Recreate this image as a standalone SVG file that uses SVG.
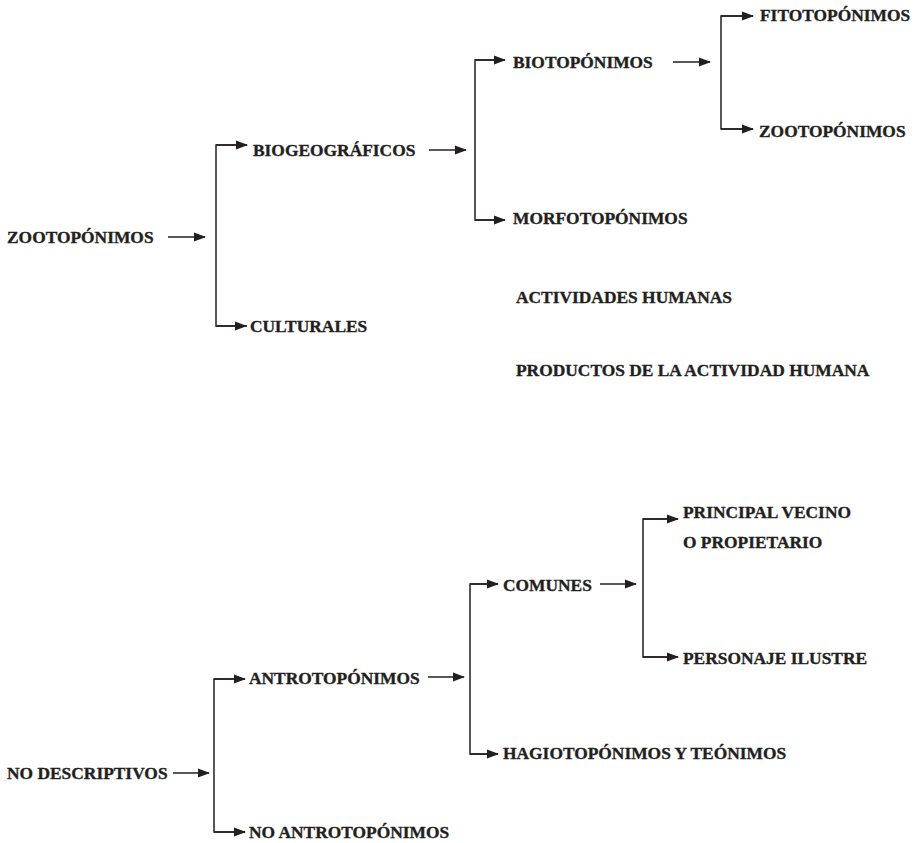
<svg xmlns="http://www.w3.org/2000/svg" width="918" height="843" viewBox="0 0 918 843">
<style>
.t{font-family:"Liberation Serif","Times New Roman",serif;font-weight:bold;font-size:17.4px;fill:#231f20;stroke:#231f20;stroke-width:0.35}
.c{fill:none;stroke:#231f20;stroke-width:1.5}
</style>
<defs>
<marker id="ah" markerUnits="userSpaceOnUse" markerWidth="12" markerHeight="10" refX="11" refY="5" orient="auto">
<path d="M0,0.5 L12,5 L0,9.5 z" fill="#231f20"/>
</marker>
</defs>
<rect width="918" height="843" fill="#fff"/>
<g id="connectors">
<path class="c" d="M168,237 H205" marker-end="url(#ah)"/>
<path class="c" d="M247,145 H216 V326 H247"/>
<path class="c" d="M216,145 H247" marker-end="url(#ah)"/>
<path class="c" d="M216,326 H246" marker-end="url(#ah)"/>
<path class="c" d="M429,150 H466" marker-end="url(#ah)"/>
<path class="c" d="M505,60 H475 V220 H505"/>
<path class="c" d="M475,60 H505" marker-end="url(#ah)"/>
<path class="c" d="M475,220 H505" marker-end="url(#ah)"/>
<path class="c" d="M673,62 H710" marker-end="url(#ah)"/>
<path class="c" d="M753,16 H721 V129 H753"/>
<path class="c" d="M721,16 H753" marker-end="url(#ah)"/>
<path class="c" d="M721,129 H753" marker-end="url(#ah)"/>
<path class="c" d="M173,773 H209" marker-end="url(#ah)"/>
<path class="c" d="M245,679 H214 V832 H245"/>
<path class="c" d="M214,679 H245" marker-end="url(#ah)"/>
<path class="c" d="M214,832 H245" marker-end="url(#ah)"/>
<path class="c" d="M428,677 H464" marker-end="url(#ah)"/>
<path class="c" d="M498,584 H470 V754 H498"/>
<path class="c" d="M470,584 H498" marker-end="url(#ah)"/>
<path class="c" d="M470,754 H498" marker-end="url(#ah)"/>
<path class="c" d="M600,584 H636" marker-end="url(#ah)"/>
<path class="c" d="M678,519 H643 V657 H678"/>
<path class="c" d="M643,519 H678" marker-end="url(#ah)"/>
<path class="c" d="M643,657 H678" marker-end="url(#ah)"/>
</g>
<g id="n-zootoponimos"><text class="t" x="7" y="243">ZOOTOPÓNIMOS</text></g>
<g id="n-biogeograficos"><text class="t" x="253" y="156">BIOGEOGRÁFICOS</text></g>
<g id="n-culturales"><text class="t" x="250" y="332">CULTURALES</text></g>
<g id="n-biotoponimos"><text class="t" x="513" y="68">BIOTOPÓNIMOS</text></g>
<g id="n-morfotoponimos"><text class="t" x="513" y="224">MORFOTOPÓNIMOS</text></g>
<g id="n-fitotoponimos"><text class="t" x="760" y="20.5">FITOTOPÓNIMOS</text></g>
<g id="n-zootoponimos2"><text class="t" x="759" y="137">ZOOTOPÓNIMOS</text></g>
<g id="n-actividades"><text class="t" x="516" y="303">ACTIVIDADES HUMANAS</text></g>
<g id="n-productos"><text class="t" x="516" y="376">PRODUCTOS DE LA ACTIVIDAD HUMANA</text></g>
<g id="n-nodescriptivos"><text class="t" x="7" y="779">NO DESCRIPTIVOS</text></g>
<g id="n-antrotoponimos"><text class="t" x="249" y="684">ANTROTOPÓNIMOS</text></g>
<g id="n-noantrotoponimos"><text class="t" x="249" y="838">NO ANTROTOPÓNIMOS</text></g>
<g id="n-comunes"><text class="t" x="503" y="591">COMUNES</text></g>
<g id="n-hagiotoponimos"><text class="t" x="503" y="759">HAGIOTOPÓNIMOS Y TEÓNIMOS</text></g>
<g id="n-principal"><text class="t" x="683" y="518">PRINCIPAL VECINO</text><text class="t" x="683" y="548">O PROPIETARIO</text></g>
<g id="n-personaje"><text class="t" x="683" y="664">PERSONAJE ILUSTRE</text></g>
</svg>
